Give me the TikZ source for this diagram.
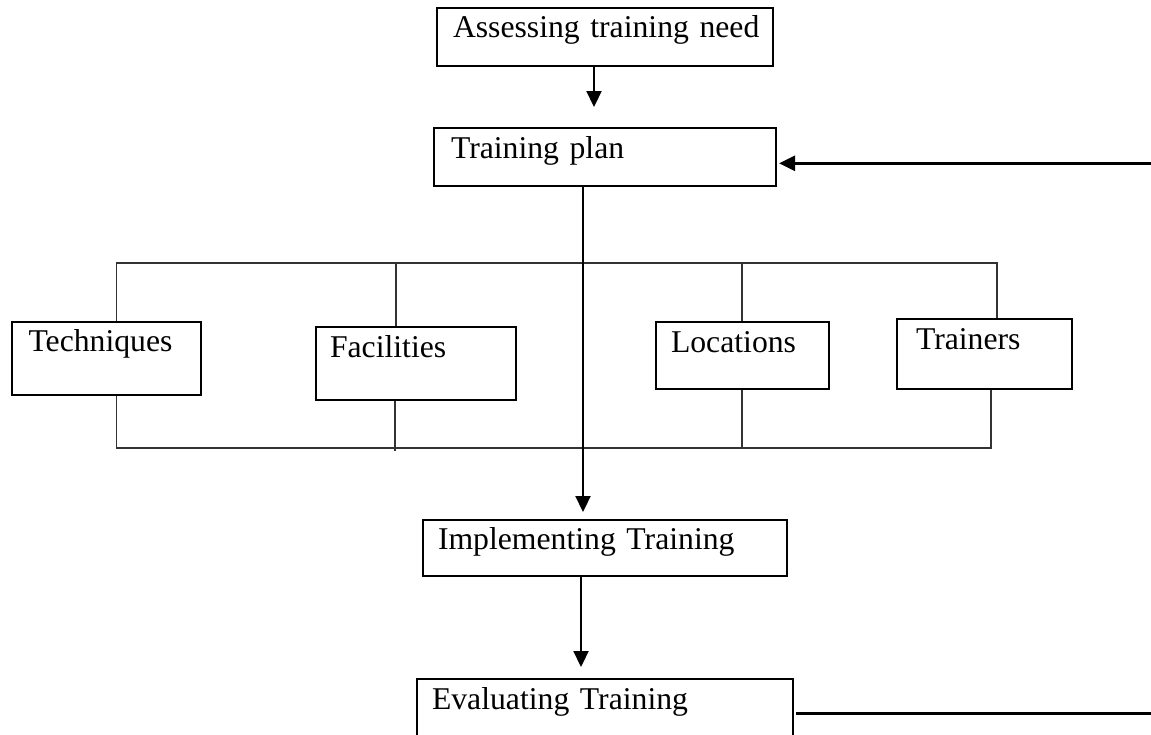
\documentclass[tikz,border=0pt]{standalone}
\usepackage{fontspec}
\setmainfont{Liberation Serif}
\usetikzlibrary{arrows.meta}
\newcommand\diagfont{\fontsize{31.7pt}{38pt}\selectfont}
\tikzset{
  box/.style={draw, line width=2pt, anchor=north west, inner ysep=0pt, align=left, font=\diagfont},
  arr/.style={line width=2.2pt, -{Triangle[length=16pt,width=15pt]}},
  fbline/.style={line width=2.6pt},
  brk/.style={line width=1.1pt, black!80},
}
\begin{document}
\begin{tikzpicture}[x=1pt,y=-1pt]
\useasboundingbox (0,0) rectangle (1151,734);
\clip (0,0) rectangle (1151,734);
\fill[white] (0,0) rectangle (1151,734);

% boxes
\node[box, inner xsep=16pt, text width=304pt, text height=29pt, text depth=29pt] (assess) at (436,7) {\mbox{Assessing training need}};
\node[box, inner xsep=17pt, text width=308pt, text height=30pt, text depth=28pt] (plan) at (433,127) {\mbox{Training plan}};
\node[box, inner xsep=17pt, text width=155.5pt, text height=29pt, text depth=44pt] (tech) at (10.5,321) {\mbox{Techniques}};
\node[box, inner xsep=14pt, text width=172pt, text height=30pt, text depth=43pt] (fac) at (315,326) {\mbox{Facilities}};
\node[box, inner xsep=15pt, text width=143pt, text height=30pt, text depth=37pt] (loc) at (655,321) {\mbox{Locations}};
\node[box, inner xsep=19pt, text width=137pt, text height=30pt, text depth=40pt] (trn) at (896,318) {\mbox{Trainers}};
\node[box, inner xsep=15pt, text width=334pt, text height=29pt, text depth=27pt] (impl) at (422,519) {\mbox{Implementing Training}};
\node[box, inner xsep=15pt, text width=346pt, text height=30pt, text depth=50pt] (eval) at (416,678) {\mbox{Evaluating Training}};

% bracket around the four resources
\coordinate (tl) at (116.5,263);
\coordinate (tr) at (997,263);
\coordinate (bl) at (116.5,448);
\coordinate (br) at (991,448);
\coordinate (facx) at (396,263);
\coordinate (locx) at (742,263);
\coordinate (facb) at (395,451);
\coordinate (locb) at (742,448);
\draw[brk] (tl |- tech.north) -- (tl) -- (tr) -- (tr |- trn.north);
\draw[brk] (facx) -- (facx |- fac.north);
\draw[brk] (locx) -- (locx |- loc.north);
\draw[brk] (bl |- tech.south) -- (bl) -- (br) -- (br |- trn.south);
\draw[brk] (facb |- fac.south) -- (facb);
\draw[brk] (locb |- loc.south) -- (locb);

% main flow
\coordinate (a1) at ([xshift=-11pt]assess.south);
\draw[arr, shorten >=20pt] (a1) -- (a1 |- plan.north);
\coordinate (a3) at ([xshift=-22pt]plan.south);
\draw[arr, shorten >=7pt] (a3) -- (a3 |- impl.north);
\coordinate (a4) at ([xshift=-24pt]impl.south);
\draw[arr, shorten >=11pt] (a4) -- (a4 |- eval.north);

% feedback lines
\coordinate (fbin) at (1151,163.3);
\coordinate (fbout) at (1151,713.5);
\draw[arr, fbline, shorten >=2pt] (fbin) -- (fbin -| plan.east);
\draw[fbline, shorten <=2pt] (fbout -| eval.east) -- (fbout);
\end{tikzpicture}
\end{document}
